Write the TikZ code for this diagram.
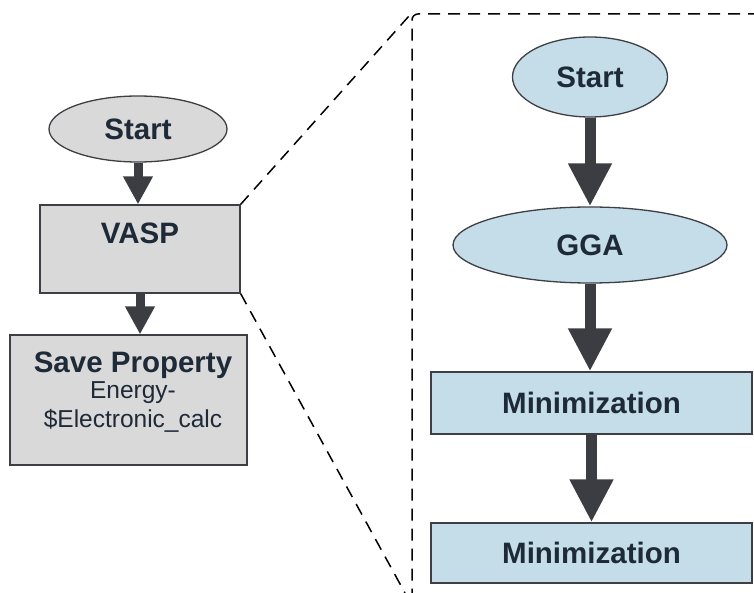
\documentclass[tikz,border=0pt]{standalone}
\usepackage{fontspec}
\setmainfont{Liberation Sans}
\usetikzlibrary{arrows.meta,shapes.geometric}
\definecolor{txt}{HTML}{1E2A38}
\definecolor{edge}{HTML}{3E3F44}
\definecolor{grayfill}{HTML}{D9D9D9}
\definecolor{bluefill}{HTML}{C4DDE8}
\definecolor{arrowcol}{HTML}{3C3D42}
\tikzset{
  graynode/.style={draw=edge, line width=1.3pt, fill=grayfill, inner sep=0pt},
  bluenode/.style={draw=edge, line width=1.3pt, fill=bluefill, inner sep=0pt},
  lbl/.style={text=txt, font=\fontsize{29.5}{33}\selectfont\bfseries, inner sep=0pt},
  small/.style={text=txt, font=\fontsize{24.5}{28}\selectfont, inner sep=0pt},
  bigarrow/.style={draw=arrowcol, line width=11pt, -{Triangle[length=43pt,width=41pt]}},
  smallarrow/.style={draw=arrowcol, line width=9pt, -{Triangle[length=28pt,width=28pt]}},
  zoomline/.style={draw=black, line width=1.5pt, dash pattern=on 12pt off 8pt},
}
\begin{document}
\begin{tikzpicture}[x=1pt,y=-1pt]
\useasboundingbox (0,0) rectangle (754,593);
% left flow
\node[graynode, ellipse, minimum width=178pt, minimum height=66pt] (ls) at (138,129) {};
\node[lbl] at (ls.center) {Start};
\node[graynode, rectangle, minimum width=200pt, minimum height=88pt] (vasp) at (140,249) {};
\node[lbl] (vasptxt) at (140,233) {VASP};
\node[graynode, rectangle, minimum width=237pt, minimum height=130pt] (sp) at (128.5,400) {};
\node[lbl] (sptitle) at (133,365) {Save Property};
\node[small] (spl1) at (133,393) {Energy-};
\node[small] (spl2) at (133,421) {\$Electronic\_calc};
\draw[smallarrow] (ls.south) -- (ls.south |- vasp.north);
\draw[smallarrow] (vasp.south) -- (vasp.south |- sp.north);
% right flow
\node[bluenode, ellipse, minimum width=155pt, minimum height=80pt] (rs) at (590,77) {};
\node[lbl] at (rs.center) {Start};
\node[bluenode, ellipse, minimum width=274pt, minimum height=76pt] (gga) at (590,245) {};
\node[lbl] at (gga.center) {GGA};
\node[bluenode, rectangle, minimum width=321pt, minimum height=62pt] (m1) at (591.5,403) {};
\node[lbl] at (m1.center) {Minimization};
\node[bluenode, rectangle, minimum width=321pt, minimum height=60pt] (m2) at (591.5,553) {};
\node[lbl] at (m2.center) {Minimization};
\draw[bigarrow] (rs.south) -- (gga.north);
\draw[bigarrow] (gga.south) -- (gga.south |- m1.north);
\draw[bigarrow] (m1.south) -- (m2.north);
% zoom frame
\coordinate (ftl) at (412,14);
\coordinate (fbl) at (405,593);
\draw[zoomline, rounded corners=6pt] (760,14) -- (ftl) -- (412,600);
\draw[zoomline] (vasp.north east) -- (409,16);
\draw[zoomline] (vasp.south east) -- (fbl);
\end{tikzpicture}
\end{document}
